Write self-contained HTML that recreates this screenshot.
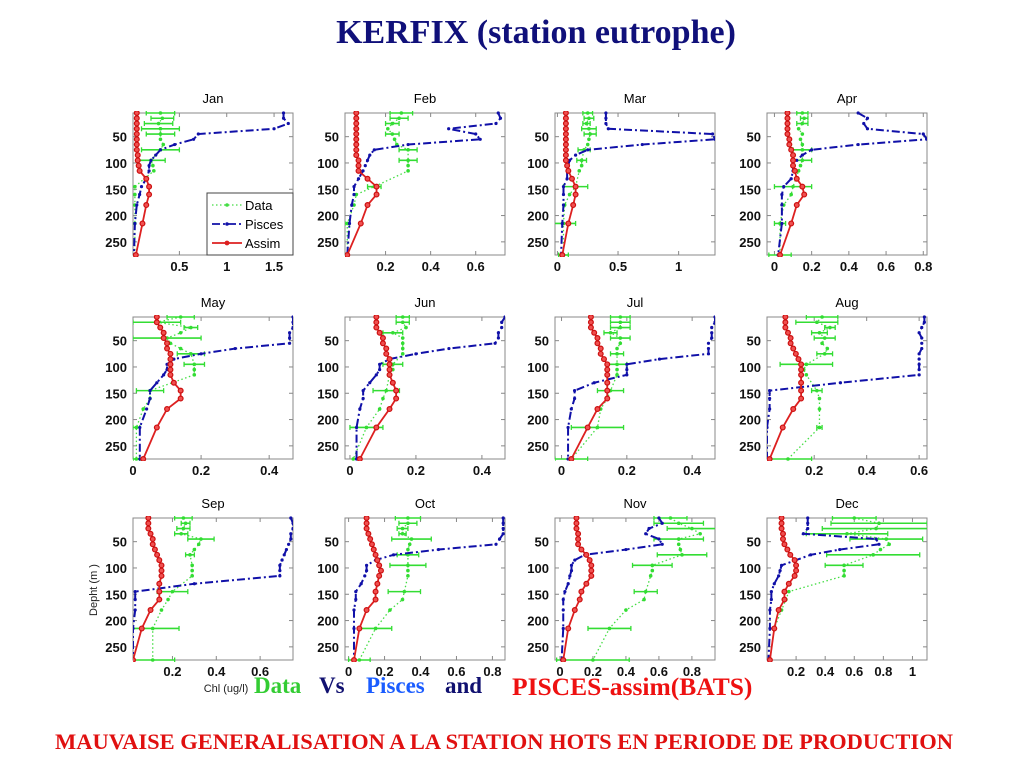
<!DOCTYPE html>
<html><head><meta charset="utf-8">
<style>
body{margin:0;background:#fff;width:1024px;height:768px;overflow:hidden;font-family:"Liberation Sans",sans-serif;}
#title{position:absolute;left:0;width:1072px;top:14px;text-align:center;font:bold 34px "Liberation Serif",serif;color:#10107a;}
#bottom{position:absolute;left:0;width:1008px;top:729px;text-align:center;font:bold 22.5px "Liberation Serif",serif;color:#e01010;white-space:nowrap;}
.cap{position:absolute;top:673px;font:bold 23px "Liberation Serif",serif;white-space:nowrap;}
</style></head><body>
<div id="title">KERFIX (station eutrophe)</div>
<svg id="chart" width="1024" height="768" style="position:absolute;left:0;top:0"></svg>
<div class="cap" style="left:254px;color:#33cc33">Data</div>
<div class="cap" style="left:319px;color:#101070">Vs</div>
<div class="cap" style="left:366px;color:#1a5cff">Pisces</div>
<div class="cap" style="left:445px;color:#101070">and</div>
<div class="cap" style="left:512px;top:672px;font-size:25.5px;color:#ee1111">PISCES-assim(BATS)</div>
<div id="bottom">MAUVAISE GENERALISATION A LA STATION HOTS EN PERIODE DE PRODUCTION</div>
<script>
const months=["Jan","Feb","Mar","Apr","May","Jun","Jul","Aug","Sep","Oct","Nov","Dec"];
const modelDepths=[5,15,25,35,45,55,65,75,85,95,105,115,130,145,160,180,215,275];
const dataDepths=[5,15,25,35,45,55,65,75,95,105,115,145,160,180,215,275];
const depthTicks=[50,100,150,200,250];
const xLims=[[0.01,1.7],[0.02,0.73],[-0.02,1.3],[-0.04,0.82],[0,0.47],[-0.015,0.47],[-0.02,0.47],[0.02,0.63],[0.02,0.75],[-0.02,0.87],[-0.03,0.94],[0,1.1]];
const xTicks=[[0.5,1,1.5],[0.2,0.4,0.6],[0,0.5,1],[0,0.2,0.4,0.6,0.8],[0,0.2,0.4],[0,0.2,0.4],[0,0.2,0.4],[0.2,0.4,0.6],[0.2,0.4,0.6],[0,0.2,0.4,0.6,0.8],[0,0.2,0.4,0.6,0.8],[0.2,0.4,0.6,0.8,1]];
const assim=[
[0.05,0.05,0.05,0.05,0.05,0.05,0.05,0.05,0.06,0.06,0.07,0.08,0.15,0.18,0.18,0.15,0.11,0.04],
[0.07,0.07,0.07,0.07,0.07,0.07,0.07,0.07,0.07,0.08,0.08,0.08,0.12,0.16,0.16,0.12,0.09,0.03],
[0.07,0.07,0.07,0.07,0.07,0.07,0.07,0.07,0.07,0.07,0.08,0.09,0.12,0.15,0.15,0.13,0.09,0.04],
[0.07,0.07,0.07,0.07,0.07,0.08,0.08,0.09,0.1,0.1,0.1,0.11,0.12,0.15,0.16,0.12,0.09,0.03],
[0.07,0.07,0.08,0.09,0.09,0.1,0.1,0.11,0.11,0.11,0.11,0.11,0.12,0.14,0.14,0.1,0.07,0.03],
[0.08,0.08,0.08,0.09,0.1,0.1,0.11,0.11,0.12,0.12,0.12,0.12,0.13,0.14,0.14,0.12,0.08,0.03],
[0.09,0.09,0.09,0.1,0.11,0.11,0.12,0.12,0.13,0.14,0.14,0.14,0.14,0.14,0.14,0.11,0.08,0.03],
[0.09,0.09,0.09,0.1,0.11,0.11,0.12,0.13,0.14,0.15,0.15,0.15,0.15,0.15,0.15,0.12,0.08,0.03],
[0.09,0.09,0.09,0.1,0.11,0.11,0.12,0.13,0.14,0.15,0.15,0.15,0.14,0.14,0.14,0.1,0.06,0.02],
[0.1,0.1,0.1,0.11,0.12,0.13,0.14,0.15,0.16,0.17,0.18,0.17,0.16,0.15,0.15,0.1,0.06,0.03],
[0.1,0.1,0.1,0.11,0.11,0.11,0.13,0.16,0.18,0.19,0.19,0.19,0.16,0.13,0.12,0.09,0.05,0.02],
[0.1,0.1,0.1,0.11,0.11,0.12,0.14,0.16,0.19,0.2,0.2,0.19,0.15,0.12,0.12,0.08,0.05,0.02]];
const pisces=[
[1.6,1.6,1.65,1.5,0.7,0.65,0.45,0.3,0.25,0.2,0.18,0.18,0.15,0.1,0.08,0.05,0.03,0.02],
[0.7,0.71,0.69,0.48,0.6,0.62,0.3,0.15,0.13,0.12,0.11,0.1,0.08,0.06,0.06,0.05,0.04,0.03],
[0.4,0.4,0.4,0.42,1.28,1.3,0.7,0.25,0.15,0.1,0.09,0.08,0.08,0.05,0.05,0.05,0.04,0.03],
[0.45,0.5,0.48,0.5,0.8,0.82,0.45,0.2,0.15,0.12,0.1,0.1,0.09,0.05,0.04,0.04,0.04,0.02],
[0.47,0.47,0.47,0.46,0.46,0.46,0.3,0.2,0.12,0.1,0.1,0.09,0.07,0.05,0.05,0.04,0.02,0.02],
[0.47,0.46,0.46,0.45,0.45,0.44,0.3,0.2,0.12,0.09,0.09,0.08,0.06,0.04,0.04,0.03,0.02,0.02],
[0.47,0.47,0.46,0.46,0.46,0.45,0.45,0.45,0.3,0.2,0.2,0.2,0.1,0.04,0.04,0.03,0.02,0.02],
[0.62,0.62,0.61,0.6,0.61,0.61,0.61,0.6,0.6,0.6,0.6,0.6,0.3,0.03,0.03,0.03,0.02,0.02],
[0.74,0.75,0.75,0.74,0.74,0.73,0.72,0.71,0.7,0.69,0.69,0.69,0.3,0.03,0.03,0.03,0.02,0.02],
[0.86,0.86,0.86,0.86,0.84,0.82,0.5,0.25,0.15,0.1,0.1,0.09,0.07,0.04,0.04,0.03,0.03,0.03],
[0.6,0.62,0.54,0.52,0.6,0.62,0.4,0.15,0.09,0.07,0.07,0.06,0.05,0.03,0.02,0.02,0.02,0.01],
[0.28,0.28,0.28,0.25,0.75,0.77,0.5,0.3,0.2,0.1,0.09,0.08,0.05,0.03,0.03,0.02,0.02,0.01]];
const obs=[
[0.3,0.32,0.28,0.3,0.3,0.3,0.33,0.3,0.2,0.22,0.23,0.03,0.03,0.03,0.03,0.03],
[0.27,0.26,0.23,0.21,0.23,0.24,0.25,0.3,0.3,0.3,0.3,0.15,0.07,0.06,0.03,0.03],
[0.25,0.26,0.24,0.26,0.27,0.26,0.25,0.22,0.2,0.2,0.18,0.15,0.1,0.06,0.05,0.05],
[0.15,0.16,0.15,0.13,0.15,0.14,0.15,0.15,0.15,0.14,0.13,0.1,0.09,0.05,0.03,0.03],
[0.14,0.07,0.17,0.14,0.1,0.11,0.14,0.17,0.18,0.18,0.18,0.05,0.05,0.03,0.01,0.01],
[0.16,0.16,0.17,0.13,0.16,0.16,0.16,0.16,0.13,0.13,0.12,0.11,0.1,0.09,0.05,0.01],
[0.18,0.18,0.18,0.15,0.18,0.18,0.17,0.17,0.17,0.17,0.17,0.15,0.14,0.12,0.11,0.03],
[0.23,0.21,0.26,0.22,0.24,0.23,0.25,0.24,0.17,0.16,0.17,0.21,0.22,0.22,0.22,0.1],
[0.25,0.26,0.25,0.24,0.33,0.32,0.3,0.28,0.29,0.29,0.29,0.2,0.18,0.15,0.11,0.11],
[0.33,0.33,0.3,0.3,0.35,0.34,0.33,0.33,0.33,0.33,0.33,0.31,0.3,0.23,0.15,0.06],
[0.67,0.72,0.8,0.85,0.72,0.72,0.73,0.74,0.56,0.56,0.55,0.52,0.51,0.4,0.3,0.2],
[0.6,0.77,0.75,0.55,0.82,0.84,0.78,0.73,0.53,0.53,0.53,0.15,0.13,0.1,0.05,0.02]];
const obsErr=[
[0.15,0.12,0.15,0.2,0.15,0,0,0.2,0.15,0,0,0,0,0,0,0],
[0.05,0.04,0.03,0,0.03,0,0,0.04,0.04,0,0,0.03,0,0,0.01,0],
[0.04,0.04,0.03,0.06,0.05,0,0,0.05,0.04,0,0,0.1,0,0,0.1,0.04],
[0.03,0.02,0.03,0,0,0,0,0.05,0.05,0,0,0.1,0,0,0.03,0.06],
[0.04,0.07,0.02,0,0.1,0,0,0.04,0.03,0,0,0.04,0,0,0.01,0.01],
[0.02,0.02,0,0.03,0,0,0,0,0.03,0,0,0.04,0,0,0.05,0],
[0.03,0.03,0.03,0.02,0.03,0,0,0.02,0.03,0,0,0.04,0,0,0.08,0.05],
[0.06,0.08,0.02,0.03,0.04,0,0,0.03,0.1,0,0,0.02,0,0,0.01,0.09],
[0.04,0.02,0.03,0.03,0.06,0,0,0.02,0,0,0,0.07,0,0,0.12,0.1],
[0.07,0.05,0.03,0.02,0.11,0,0,0.06,0.1,0,0,0.09,0,0,0.09,0.06],
[0.1,0.15,0.15,0,0.15,0,0,0.15,0.12,0,0,0.07,0,0,0.13,0.22],
[0.15,0.33,0.37,0.28,0.25,0,0,0.32,0.13,0,0,0,0,0,0,0]];
const colLeft=[133,345,555,767], colW=160;
const rowTop=[113,317,518], rowH=142;
const yMin=5,yMax=275;
const NS="http://www.w3.org/2000/svg";
const svg=document.getElementById('chart');
function mk(tag,attrs,parent){const e=document.createElementNS(NS,tag);for(const k in attrs)e.setAttribute(k,attrs[k]);(parent||svg).appendChild(e);return e;}
months.forEach((m,i)=>{
  const L=colLeft[i%4],T=rowTop[Math.floor(i/4)];
  const [x0,x1]=xLims[i];
  const sx=v=>L+(v-x0)/(x1-x0)*colW;
  const sy=d=>T+(d-yMin)/(yMax-yMin)*rowH;
  const g=mk('g',{});
  
  
  const t=mk('text',{x:L+colW/2,y:T-10,'text-anchor':'middle','font-size':13,fill:'#000'},g);t.textContent=m;
  
  mk('rect',{x:L,y:T,width:colW,height:rowH,fill:'#fff',stroke:'#888','stroke-width':1},g);
  depthTicks.forEach(d=>{
    const y=sy(d);
    mk('line',{x1:L,x2:L+4,y1:y,y2:y,stroke:'#888'},g);
    mk('line',{x1:L+colW-4,x2:L+colW,y1:y,y2:y,stroke:'#888'},g);
    const tl=mk('text',{x:L-6,y:y+5,'text-anchor':'end','font-size':13,'font-weight':'bold',fill:'#111'},g);tl.textContent=d;
    
  });
  xTicks[i].forEach(v=>{
    const x=sx(v);
    mk('line',{x1:x,x2:x,y1:T+rowH,y2:T+rowH-4,stroke:'#888'},g);
    mk('line',{x1:x,x2:x,y1:T,y2:T+4,stroke:'#888'},g);
    const tl=mk('text',{x:x,y:T+rowH+16,'text-anchor':'middle','font-size':13,'font-weight':'bold',fill:'#111'},g);tl.textContent=v;
    
  });
  const clip='c'+i;
  const cp=mk('clipPath',{id:clip},g);mk('rect',{x:L,y:T-2,width:colW,height:rowH+4},cp);
  const pg=mk('g',{'clip-path':'url(#'+clip+')'},g);
  const dpts=obs[i].map((v,k)=>sx(v)+','+sy(dataDepths[k])).join(' ');
  const dl=mk('polyline',{points:dpts,fill:'none',stroke:'#44dd44','stroke-width':1.3,'stroke-dasharray':'1.5 2.5'},pg);
  
  obs[i].forEach((v,k)=>{
    const y=sy(dataDepths[k]),e=obsErr[i][k];
    if(e>0){
      const eb=mk('line',{x1:sx(v-e),x2:sx(v+e),y1:y,y2:y,stroke:'#33dd33','stroke-width':1.6},pg);
      
      mk('line',{x1:sx(v-e),x2:sx(v-e),y1:y-2.5,y2:y+2.5,stroke:'#33dd33','stroke-width':1.3},pg);
      mk('line',{x1:sx(v+e),x2:sx(v+e),y1:y-2.5,y2:y+2.5,stroke:'#33dd33','stroke-width':1.3},pg);
    }
    const p=mk('circle',{cx:sx(v),cy:y,r:1.8,fill:'#33dd33'},pg);
    
  });
  const pp=pisces[i].map((v,k)=>sx(v)+','+sy(modelDepths[k])).join(' ');
  const pl=mk('polyline',{points:pp,fill:'none',stroke:'#1010a8','stroke-width':2,'stroke-dasharray':'8 3 2 3'},pg);
  
  pisces[i].forEach((v,k)=>{const c=mk('circle',{cx:sx(v),cy:sy(modelDepths[k]),r:1.6,fill:'#1010a8'},pg);
    });
  const ap=assim[i].map((v,k)=>sx(v)+','+sy(modelDepths[k])).join(' ');
  const al=mk('polyline',{points:ap,fill:'none',stroke:'#dd2020','stroke-width':1.8},pg);
  
  assim[i].forEach((v,k)=>{const c=mk('circle',{cx:sx(v),cy:sy(modelDepths[k]),r:2.4,fill:'#f05050',stroke:'#cc1010','stroke-width':1.2},pg);
    });
});
const lg=mk('g',{});

mk('rect',{x:207,y:193,width:86,height:62,fill:'#fff',stroke:'#444'},lg);
[['Data','#44dd44','1.5 2.5','data'],['Pisces','#1010a8','8 3 2 3','pisces'],['Assim','#dd2020','','assim']].forEach((it,k)=>{
  const y=205+k*19;
  mk('line',{x1:212,x2:242,y1:y,y2:y,stroke:it[1],'stroke-width':it[3]=='data'?1.3:1.8,'stroke-dasharray':it[2]},lg);
  mk('circle',{cx:227,cy:y,r:it[3]=='assim'?2.4:1.8,fill:it[1]},lg);
  const tx=mk('text',{x:245,y:y+5,'font-size':13,fill:'#000'},lg);tx.textContent=it[0];
  
});
const yl=mk('text',{x:0,y:0,'font-size':11,fill:'#222','text-anchor':'middle',transform:'translate(97,590) rotate(-90)'});
yl.textContent='Depht (m )';

const xl=mk('text',{x:226,y:692,'font-size':11,fill:'#222','text-anchor':'middle'});
xl.textContent='Chl (ug/l)';

</script>
</body></html>
